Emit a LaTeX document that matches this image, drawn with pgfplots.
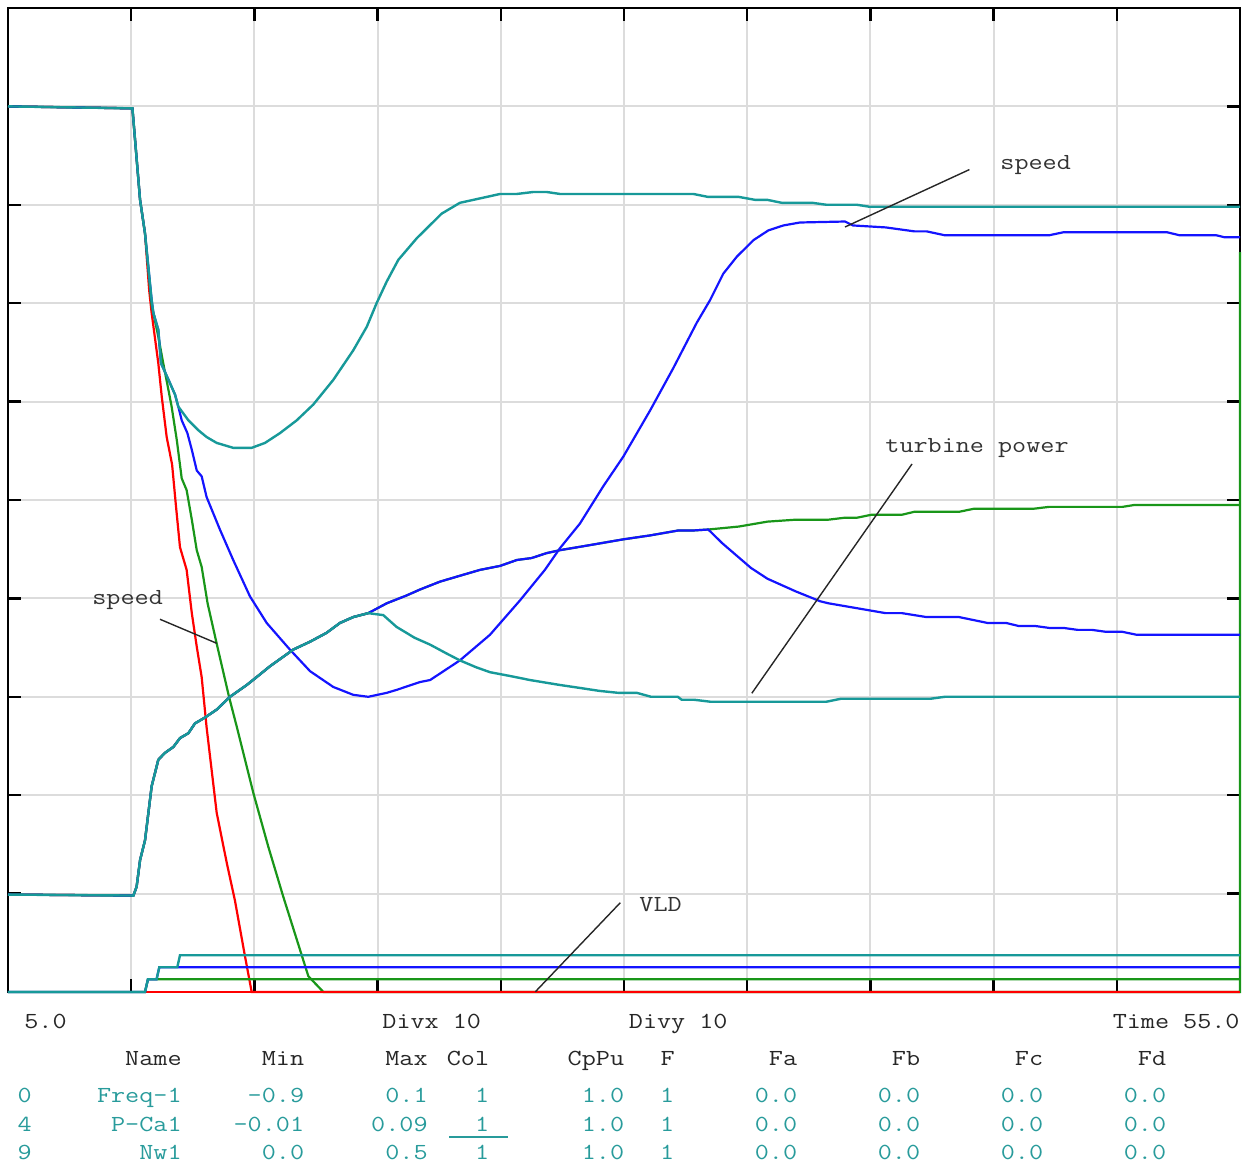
\documentclass[border=0pt]{standalone}
\usepackage{pgfplots}
\pgfplotsset{compat=1.18}
\usepackage{fontspec}
\newfontfamily\cour[FakeStretch=1.19]{Latin Modern Mono}
\definecolor{cteal}{RGB}{23,153,153}
\definecolor{cgreen}{RGB}{25,150,25}
\definecolor{cblue}{RGB}{20,20,255}
\definecolor{cred}{RGB}{255,0,0}
\definecolor{ctxt}{RGB}{40,155,155}
\definecolor{cgrid}{RGB}{220,220,220}
\begin{document}
\begin{tikzpicture}
\path[use as bounding box] (-4pt,-86.5pt) rectangle (619.5pt,496pt);
\begin{axis}[at={(0,0)}, anchor=south west, scale only axis,
  width=616pt, height=492pt,
  xmin=5, xmax=55, ymin=0, ymax=10,
  xtick={10,15,...,50}, ytick={1,2,...,9},
  xticklabels={}, yticklabels={},
  xtick pos=both, ytick pos=both, tick align=inside,
  major tick length=6.5pt,
  tick style={black, line width=1.2pt},
  grid=major, major grid style={cgrid, line width=1pt},
  axis line style={black, line width=1.2pt},
  clip=false,
  every axis plot/.append style={line width=1.1pt, mark=none}]
% ---------- Freq-1 (speed) ----------
\addplot[cred] coordinates {(5,9.0) (10.05,8.98) (10.36,8.05) (10.56,7.71) (10.73,7.13) (10.83,6.90) (11.10,6.39) (11.24,6.05) (11.44,5.64) (11.66,5.36) (11.82,4.93) (11.98,4.52) (12.25,4.29) (12.46,3.85) (12.66,3.51) (12.86,3.20) (13.06,2.69) (13.47,1.82) (13.88,1.31) (14.21,0.93) (14.62,0.36) (14.89,0) (55,0)};
\addplot[cgreen] coordinates {(5,9.0) (10.05,8.98) (10.36,8.05) (10.56,7.71) (10.83,6.98) (10.90,6.90) (11.10,6.66) (11.30,6.39) (11.51,6.12) (11.64,5.95) (11.85,5.61) (12.05,5.22) (12.25,5.10) (12.46,4.80) (12.66,4.49) (12.86,4.32) (13.10,3.95) (13.47,3.54) (13.97,3.00) (14.28,2.70) (14.96,2.02) (15.56,1.48) (16.17,0.97) (17.19,0.16) (17.80,0) (55,0) (55,7.52)};
\addplot[cblue] coordinates {(5,9.0) (10.05,8.98) (10.36,8.05) (10.56,7.71) (10.83,7.03) (10.90,6.90) (11.10,6.73) (11.21,6.39) (11.57,6.19) (11.78,6.07) (11.91,5.95) (12.05,5.81) (12.28,5.68) (12.46,5.51) (12.66,5.30) (12.86,5.24) (13.06,5.03) (13.60,4.70) (14.14,4.39) (14.82,4.02) (15.50,3.75) (16.44,3.48) (17.26,3.26) (18.20,3.10) (19.01,3.02) (19.62,3.00) (20.37,3.04) (20.77,3.07) (21.72,3.15) (22.13,3.17) (23.34,3.37) (24.56,3.63) (25.78,3.98) (26.79,4.29) (27.40,4.51) (28.21,4.76) (29.16,5.14) (29.97,5.44) (31.06,5.91) (32.00,6.34) (32.95,6.80) (33.49,7.03) (34.03,7.30) (34.57,7.47) (35.25,7.64) (35.86,7.74) (36.47,7.79) (37.14,7.82) (38.97,7.83) (39.29,7.79) (40.62,7.77) (41.78,7.73) (42.28,7.73) (43.02,7.69) (47.25,7.69) (47.82,7.72) (52.05,7.72) (52.55,7.69) (54.04,7.69) (54.37,7.67) (55,7.67)};
\addplot[cteal, line width=1.2pt] coordinates {(5,9.0) (10.05,8.98) (10.36,8.05) (10.56,7.71) (10.83,7.03) (10.90,6.90) (11.10,6.73) (11.21,6.39) (11.57,6.19) (11.78,6.07) (11.91,5.95) (12.32,5.81) (12.72,5.71) (13.06,5.64) (13.47,5.58) (14.14,5.53) (14.89,5.53) (15.43,5.58) (16.04,5.68) (16.72,5.81) (17.39,5.97) (18.20,6.22) (19.01,6.52) (19.56,6.76) (19.96,7.00) (20.37,7.22) (20.84,7.44) (21.59,7.66) (22.60,7.91) (23.34,8.02) (24.43,8.08) (24.97,8.11) (25.65,8.11) (26.32,8.13) (26.86,8.13) (27.40,8.11) (32.81,8.11) (33.41,8.08) (34.66,8.08) (35.32,8.05) (35.82,8.05) (36.40,8.02) (37.64,8.02) (38.22,8.00) (39.46,8.00) (39.96,7.98) (55,7.98)};
% ---------- P-Ca1 (turbine power) ----------
\addplot[cred] coordinates {(5,0.99) (10.09,0.98) (10.22,1.07) (10.36,1.34) (10.56,1.54) (10.83,2.09) (11.10,2.36) (11.37,2.43) (11.71,2.49) (11.98,2.58) (12.32,2.63) (12.59,2.73) (13.00,2.79) (13.47,2.87) (14.01,3.00) (14.69,3.12) (15.09,3.20) (15.63,3.31) (16.58,3.48) (17.26,3.56) (17.93,3.65) (18.47,3.75) (19.01,3.81) (19.62,3.85)};
\addplot[cgreen] coordinates {(5,0.99) (10.09,0.98) (10.22,1.07) (10.36,1.34) (10.56,1.54) (10.83,2.09) (11.10,2.36) (11.37,2.43) (11.71,2.49) (11.98,2.58) (12.32,2.63) (12.59,2.73) (13.00,2.79) (13.47,2.87) (14.01,3.00) (14.69,3.12) (15.09,3.20) (15.63,3.31) (16.58,3.48) (17.26,3.56) (17.93,3.65) (18.47,3.75) (19.01,3.81) (19.62,3.85) (20.37,3.95) (21.18,4.03) (21.72,4.09) (22.53,4.17) (23.34,4.23) (24.16,4.29) (24.97,4.33) (25.65,4.39) (26.25,4.41) (26.86,4.46) (27.40,4.49) (28.35,4.53) (29.97,4.60) (31.06,4.64) (32.20,4.69) (32.81,4.69) (33.42,4.70) (34.66,4.73) (35.82,4.78) (36.98,4.80) (38.30,4.80) (38.97,4.82) (39.46,4.82) (40.04,4.85) (41.28,4.85) (41.78,4.88) (43.60,4.88) (44.18,4.91) (46.59,4.91) (47.25,4.93) (50.23,4.93) (50.73,4.95) (55,4.95)};
\addplot[cblue] coordinates {(5,0.99) (10.09,0.98) (10.22,1.07) (10.36,1.34) (10.56,1.54) (10.83,2.09) (11.10,2.36) (11.37,2.43) (11.71,2.49) (11.98,2.58) (12.32,2.63) (12.59,2.73) (13.00,2.79) (13.47,2.87) (14.01,3.00) (14.69,3.12) (15.09,3.20) (15.63,3.31) (16.58,3.48) (17.26,3.56) (17.93,3.65) (18.47,3.75) (19.01,3.81) (19.62,3.85) (20.37,3.95) (21.18,4.03) (21.72,4.09) (22.53,4.17) (23.34,4.23) (24.16,4.29) (24.97,4.33) (25.65,4.39) (26.25,4.41) (26.86,4.46) (27.40,4.49) (28.35,4.53) (29.97,4.60) (31.06,4.64) (32.20,4.69) (32.81,4.69) (33.42,4.70) (33.99,4.56) (35.15,4.31) (35.82,4.20) (36.98,4.07) (37.97,3.97) (38.30,3.95) (40.62,3.85) (41.28,3.85) (42.28,3.81) (43.60,3.81) (44.76,3.75) (45.51,3.75) (46.01,3.72) (46.67,3.72) (47.25,3.70) (47.83,3.70) (48.41,3.68) (48.99,3.68) (49.57,3.66) (50.23,3.66) (50.81,3.63) (55,3.63)};
\addplot[cteal, line width=1.2pt] coordinates {(5,0.99) (10.09,0.98) (10.22,1.07) (10.36,1.34) (10.56,1.54) (10.83,2.09) (11.10,2.36) (11.37,2.43) (11.71,2.49) (11.98,2.58) (12.32,2.63) (12.59,2.73) (13.00,2.79) (13.47,2.87) (14.01,3.00) (14.69,3.12) (15.09,3.20) (15.63,3.31) (16.58,3.48) (17.26,3.56) (17.93,3.65) (18.47,3.75) (19.01,3.81) (19.62,3.85) (20.23,3.83) (20.77,3.71) (21.50,3.60) (22.13,3.53) (22.80,3.44) (23.34,3.37) (24.00,3.30) (24.56,3.25) (25.40,3.21) (26.19,3.17) (27.40,3.12) (28.21,3.09) (29.00,3.06) (29.77,3.04) (30.52,3.04) (31.10,3.00) (32.18,3.00) (32.34,2.97) (32.84,2.97) (33.50,2.95) (38.22,2.95) (38.80,2.98) (42.44,2.98) (43.02,3.00) (55,3.00)};
% ---------- Nw1 (VLD) ----------
\addplot[cred] coordinates {(5,0) (55,0)};
\addplot[cgreen] coordinates {(5,0) (10.56,0) (10.68,0.129) (55,0.129)};
\addplot[cblue] coordinates {(5,0) (10.56,0) (10.68,0.129) (11.03,0.129) (11.14,0.251) (55,0.251)};
\addplot[cteal, line width=1.2pt] coordinates {(5,0) (10.56,0) (10.68,0.129) (11.03,0.129) (11.14,0.251) (11.87,0.251) (11.98,0.373) (55,0.373)};
\end{axis}
\begin{scope}[x=0.5pt,y=-0.5pt,shift={(-4pt,496pt)},
  tb/.style={anchor=base east, inner sep=0pt, font=\cour\fontsize{11.5}{14}\selectfont, text=black!85},
  tt/.style={tb, text=ctxt},
  lb/.style={anchor=base west, inner sep=0pt, font=\cour\fontsize{11.5}{14}\selectfont, text=black!80}]
% annotations
\draw[black!85, line width=0.7pt] (969.4,169.6) -- (845,227);
\draw[black!85, line width=0.7pt] (912,464) -- (751.8,693.3);
\draw[black!85, line width=0.7pt] (160,619.3) -- (216.7,643.3);
\draw[black!85, line width=0.7pt] (620.3,902.7) -- (535.4,991.7);
\node[lb] at (1000,170) {speed};
\node[lb] at (885,453) {turbine power};
\node[lb] at (92,605) {speed};
\node[lb] at (639,912) {VLD};
% footer
\node[tb] at (67,1029) {5.0};
\node[tb] at (481.5,1029) {Divx 10};
\node[tb] at (728,1029) {Divy 10};
\node[tb] at (1240,1029) {Time 55.0};
% header
\node[tb] at (182,1066) {Name};
\node[tb] at (304.5,1066) {Min};
\node[tb] at (428,1066) {Max};
\node[tb] at (489.5,1066) {Col};
\node[tb] at (624.5,1066) {CpPu};
\node[tb] at (675,1066) {F};
\node[tb] at (797.5,1066) {Fa};
\node[tb] at (920.5,1066) {Fb};
\node[tb] at (1043.5,1066) {Fc};
\node[tb] at (1166.5,1066) {Fd};
% row 0
\node[tt] at (32,1103) {0};
\node[tt] at (182,1103) {Freq-1};
\node[tt] at (304.5,1103) {-0.9};
\node[tt] at (428,1103) {0.1};
\node[tt] at (489.5,1103) {1};
\node[tt] at (624.5,1103) {1.0};
\node[tt] at (674.5,1103) {1};
\node[tt] at (797.5,1103) {0.0};
\node[tt] at (920.5,1103) {0.0};
\node[tt] at (1043.5,1103) {0.0};
\node[tt] at (1166.5,1103) {0.0};
% row 4
\node[tt] at (32,1132) {4};
\node[tt] at (182,1132) {P-Ca1};
\node[tt] at (304.5,1132) {-0.01};
\node[tt] at (428,1132) {0.09};
\node[tt] at (489.5,1132) {1};
\draw[ctxt, line width=0.6pt] (449,1137) -- (508,1137);
\node[tt] at (624.5,1132) {1.0};
\node[tt] at (674.5,1132) {1};
\node[tt] at (797.5,1132) {0.0};
\node[tt] at (920.5,1132) {0.0};
\node[tt] at (1043.5,1132) {0.0};
\node[tt] at (1166.5,1132) {0.0};
% row 9
\node[tt] at (32,1160) {9};
\node[tt] at (182,1160) {Nw1};
\node[tt] at (304.5,1160) {0.0};
\node[tt] at (428,1160) {0.5};
\node[tt] at (489.5,1160) {1};
\node[tt] at (624.5,1160) {1.0};
\node[tt] at (674.5,1160) {1};
\node[tt] at (797.5,1160) {0.0};
\node[tt] at (920.5,1160) {0.0};
\node[tt] at (1043.5,1160) {0.0};
\node[tt] at (1166.5,1160) {0.0};
\end{scope}
\end{tikzpicture}
\end{document}
